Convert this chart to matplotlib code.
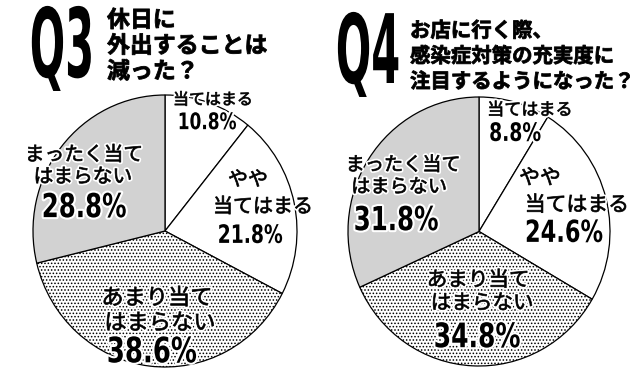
import matplotlib
matplotlib.use("Agg")
import matplotlib.pyplot as plt
import matplotlib.patheffects as pe
from matplotlib.transforms import Affine2D

# survey answers (clockwise from 12 o'clock)
q3_values = [10.8, 21.8, 38.6, 28.8]
q4_values = [8.8, 24.6, 34.8, 31.8]
answer_lines = [
    ["当てはまる"],
    ["やや", "当てはまる"],
    ["あまり当て", "はまらない"],
    ["まったく当て", "はまらない"],
]
q3_title = ["休日に", "外出することは", "減った？"]
q4_title = ["お店に行く際、", "感染症対策の充実度に", "注目するようになった？"]

W, H = 640, 377
JP = ["Noto Sans CJK JP", "DejaVu Sans"]
colors = ["white", "white", "white", "#d2d2d2"]
plt.rcParams["hatch.linewidth"] = 0.7


class Stretch(pe.AbstractPathEffect):
    """stretch text vertically (condensed look), optional white halo / embolden"""

    def __init__(self, sy=1.0, anchor="center", halo=0.0, bold=0.0):
        super().__init__()
        self.sy = sy
        self.anchor = anchor
        self.halo = halo
        self.bold = bold

    def draw_path(self, renderer, gc, tpath, affine, rgbFace=None):
        ext = tpath.get_extents()
        cy = (ext.y0 + ext.y1) / 2 if self.anchor == "center" else 0
        tr = Affine2D().translate(0, -cy).scale(1, self.sy).translate(0, cy) + affine
        if self.halo:
            gc0 = renderer.new_gc()
            gc0.copy_properties(gc)
            gc0.set_linewidth(self.halo)
            gc0.set_foreground("white")
            gc0.set_joinstyle("round")
            renderer.draw_path(gc0, tpath, tr, (1, 1, 1))
            gc0.restore()
        if self.bold:
            gc1 = renderer.new_gc()
            gc1.copy_properties(gc)
            gc1.set_linewidth(self.bold)
            gc1.set_foreground(rgbFace)
            gc1.set_joinstyle("round")
            renderer.draw_path(gc1, tpath, tr, rgbFace)
            gc1.restore()
        else:
            renderer.draw_path(gc, tpath, tr, rgbFace)


def fxy(x, y):
    return x / W, 1 - y / H


fig = plt.figure(figsize=(W / 100, H / 100), dpi=100)


def draw_pie(values, cx, cy, rx, ry):
    ax = fig.add_axes([(cx - rx) / W, 1 - (cy + ry) / H, 2 * rx / W, 2 * ry / H])
    wedges, _ = ax.pie(values, colors=colors, startangle=90, counterclock=False,
                       wedgeprops=dict(edgecolor="black", linewidth=0.9, clip_on=False))
    wedges[2].set_hatch(".....")
    ax.set_aspect("auto")
    ax.set_xlim(-1, 1)
    ax.set_ylim(-1, 1)
    ax.axis("off")
    return ax


def draw_labels(values, layout):
    for i, (pos, size, pct, psize) in enumerate(layout):
        for s, (x, y) in zip(answer_lines[i], pos):
            fig.text(*fxy(x, y), s, family=JP, fontsize=size, ha="center", va="center",
                     path_effects=[Stretch(1.0, halo=3, bold=0.5)])
        fig.text(*fxy(*pct), f"{values[i]}%", family="DejaVu Sans",
                 weight="bold", fontsize=psize, ha="center", va="center",
                 path_effects=[Stretch(1.35, halo=3)])


def draw_title(q, qx, qbase, lines, tx, ty, size, ls):
    fig.text(*fxy(qx, qbase), q, family="DejaVu Sans", weight="bold", fontsize=30,
             ha="center", va="baseline", path_effects=[Stretch(2.3, anchor="baseline")])
    fig.text(*fxy(tx, ty), "\n".join(lines), family=JP, weight="bold", fontsize=size,
             ha="left", va="top", linespacing=ls,
             path_effects=[Stretch(1.0, bold=0.6)])


draw_pie(q3_values, 165, 231, 132, 136)
draw_pie(q4_values, 479, 231.5, 131, 134.5)

q3_layout = [
    ([(213, 100)], 11.5, (207, 122), 12.2),
    ([(248, 180), (263, 207)], 14.4, (250, 235), 13.5),
    ([(157, 298), (160, 323)], 16, (152, 352), 18.7),
    ([(84, 155), (83, 177)], 14.2, (84, 207), 17.6),
]
q4_layout = [
    ([(530, 110)], 12.3, (515, 133), 13.5),
    ([(540, 178), (577, 205)], 15, (564, 233), 16.2),
    ([(478, 280), (482, 303)], 14.8, (477, 337), 18),
    ([(403, 165), (399, 187)], 13.8, (396, 220), 17.6),
]
draw_labels(q3_values, q3_layout)
draw_labels(q4_values, q4_layout)

draw_title("Q3", 62, 77, q3_title, 107, 9, 16.5, 1.15)
draw_title("Q4", 368, 83, q4_title, 410, 20, 14.7, 1.26)

fig.savefig("out.png", dpi=100, facecolor="white")
